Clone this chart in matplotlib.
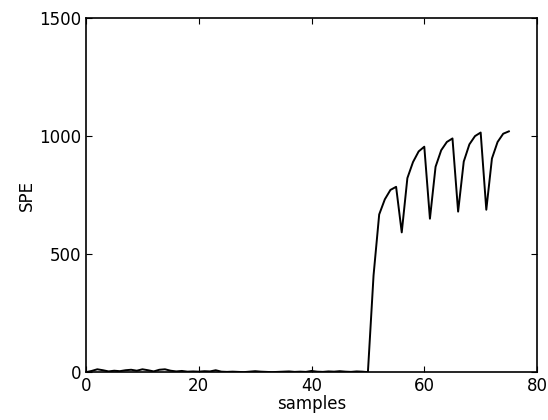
import matplotlib.pyplot as plt

# SPE per sample: quiet noise up to sample 49, then the fault kicks in at 50
noise = [0, 5, 12, 8, 3, 6, 4, 8, 10, 6, 12, 8, 3, 10, 12, 6, 3, 5, 2, 3,
         2, 4, 3, 8, 2, 1, 2, 1, 0, 2, 4, 2, 1, 0, 1, 2, 3, 1, 2, 1,
         5, 2, 1, 3, 2, 4, 2, 1, 3, 2]
fault = [0, 410, 668, 732, 772, 785, 592, 822, 890, 935, 955,
         650, 870, 940, 975, 990, 680, 892, 965, 1000, 1015,
         688, 905, 975, 1010, 1020]
spe = noise + fault
samples = list(range(len(spe)))

fig = plt.figure(figsize=(5.48, 4.2), dpi=100)
ax = fig.add_axes([0.157, 0.114, 0.823, 0.843])
ax.plot(samples, spe, color="black", linewidth=1.4)

ax.set_xlim(0, 80)
ax.set_ylim(0, 1500)
ax.set_xticks([0, 20, 40, 60, 80])
ax.set_yticks([0, 500, 1000, 1500])
ax.tick_params(direction="in", top=True, right=True, length=4, labelsize=12)
for s in ax.spines.values():
    s.set_linewidth(1.2)

ax.set_xlabel("samples", fontsize=12, labelpad=0)
ax.set_ylabel("SPE", fontsize=12, labelpad=2)

plt.savefig("out.png", dpi=100)
